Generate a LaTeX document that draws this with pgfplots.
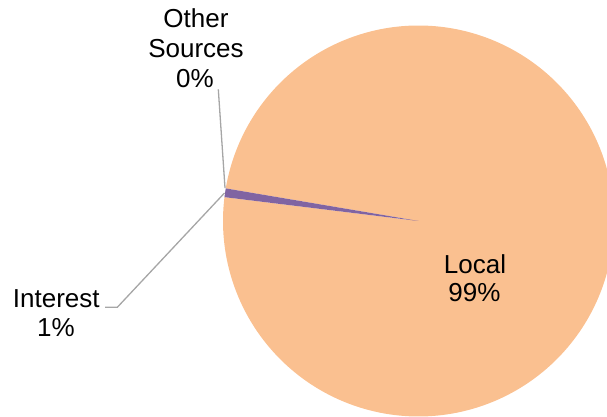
\documentclass[border=0pt]{standalone}
\usepackage{pgfplots}
\pgfplotsset{compat=1.18}
\usepackage{fontspec}
\setmainfont{Liberation Sans}
\definecolor{peach}{HTML}{FAC090}
\definecolor{purp}{HTML}{8064A2}
\definecolor{lead}{HTML}{A6A6A6}
% shares (percent)
\def\vLocal{99.28}
\def\vInterest{0.72}
\def\vOther{0.0}
% geometry
\def\cx{418.5}\def\cy{196}\def\rr{195.5}
\pgfmathsetmacro{\aEnd}{170.4}
\pgfmathsetmacro{\aInt}{\aEnd+3.6*\vInterest}
\pgfmathsetmacro{\aLoc}{\aInt+3.6*\vLocal}
\begin{document}
\begin{tikzpicture}
\begin{axis}[scale only axis, width=607pt, height=417pt,
  xmin=0, xmax=607, ymin=0, ymax=417, hide axis, clip=true]
\addplot[fill=peach, draw=none, domain=\aInt:\aLoc, samples=360, variable=\t]
  ({\cx+\rr*cos(\t)},{\cy+\rr*sin(\t)}) -- (axis cs:\cx,\cy) -- cycle;
\addplot[fill=purp, draw=none, domain=\aEnd:\aInt, samples=10, variable=\t]
  ({\cx+\rr*cos(\t)},{\cy+\rr*sin(\t)}) -- (axis cs:\cx,\cy) -- cycle;
\addplot[lead, line width=1.3pt, no marks] coordinates {(218.3,327.7) (225,229)};
\addplot[lead, line width=1.3pt, no marks] coordinates {(224.5,224) (117.3,109.7) (105,109.7)};
\begin{scope}[every node/.style={anchor=base, inner sep=0pt, font=\fontsize{26}{30}\selectfont}]
\node at (axis cs:196,389) {Other};
\node at (axis cs:196,359) {Sources};
\node at (axis cs:195,329) {0\%};
\node at (axis cs:56.3,109.5) {Interest};
\node at (axis cs:56,80) {1\%};
\node at (axis cs:475,143.7) {Local};
\node at (axis cs:474.5,115.3) {99\%};
\end{scope}
\end{axis}
\pgfresetboundingbox
\useasboundingbox (current axis.south west) rectangle (current axis.north east);
\end{tikzpicture}
\end{document}
